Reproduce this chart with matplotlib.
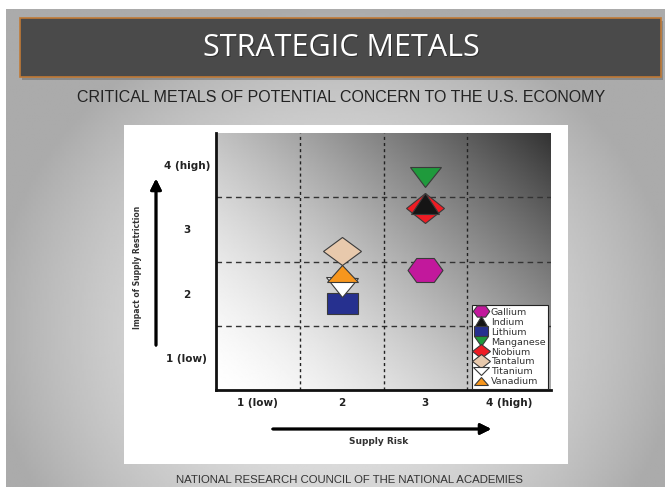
import numpy as np
import matplotlib.pyplot as plt
from matplotlib.markers import MarkerStyle
from matplotlib.transforms import Affine2D
from matplotlib.patches import Rectangle

W, H = 665, 487

# Data: supply risk (x) vs impact of supply restriction (y)
metals = ['Gallium', 'Indium', 'Lithium', 'Manganese', 'Niobium', 'Tantalum', 'Titanium', 'Vanadium']
supply_risk = [3, 3, 2, 3, 3, 2, 2, 2]
impact = [2.36, 3.41, 1.86, 3.81, 3.33, 2.66, 2.10, 2.32]
tick_vals = [1, 2, 3, 4]
tick_labels = ['1 (low)', '2', '3', '4 (high)']

# marker style per metal: (marker, face colour, width px, height px, zorder)
styles = {
    'Gallium':   ('H', '#c2189c', 35, 24, 3),
    'Indium':    ('^', '#151515', 27, 21, 5),
    'Lithium':   ('s', '#26308f', 31, 21, 2),
    'Manganese': ('v', '#1f9a3c', 31, 20, 3),
    'Niobium':   ('D', '#ee1c24', 38, 30, 4),
    'Tantalum':  ('D', '#e8c9ac', 38, 28, 3),
    'Titanium':  ('v', '#ffffff', 32, 19, 4),
    'Vanadium':  ('^', '#f7961d', 31, 17, 5),
}
# native (width, height) of each marker relative to markersize
native = {'H': (1.0, 0.866), '^': (1.0, 1.0), 'v': (1.0, 1.0), 's': (1.0, 1.0), 'D': (1.414, 1.414)}

PX2PT = 72 / 100.0


def fig_rect(x0, y0, x1, y1):
    # pixel box (top-left origin) -> figure fraction [l, b, w, h]
    return [x0 / W, 1 - y1 / H, (x1 - x0) / W, (y1 - y0) / H]


def fx(x):
    return x / W


def fy(y):
    return 1 - y / H


fig = plt.figure(figsize=(W / 100, H / 100), dpi=100)
fig.patch.set_facecolor('white')

# slide background with a soft radial gradient
bg = fig.add_axes(fig_rect(6, 9, W, H))
yy, xx = np.mgrid[-1:1:200j, -1:1:300j]
r = np.sqrt(xx ** 2 + ((yy - 0.35) / 1.3) ** 2)
shade = 0.89 - 0.20 * np.clip(r, 0, 1.05) ** 2
bg.imshow(shade, cmap='gray', vmin=0, vmax=1, aspect='auto', extent=[0, 1, 0, 1])
bg.set_axis_off()

# title bar with shadow
fig.patches.append(Rectangle((fx(22), fy(80)), (661 - 20) / W, (77 - 18) / H,
                             transform=fig.transFigure, facecolor='#666666', alpha=0.5,
                             edgecolor='none', zorder=1))
fig.patches.append(Rectangle((fx(20), fy(77)), (661 - 20) / W, (77 - 18) / H,
                             transform=fig.transFigure, facecolor='#4a4a4a',
                             edgecolor='#c07a36', linewidth=1.2, zorder=2))
fig.text(fx(341) + 0.002, fy(48) - 0.003, 'STRATEGIC METALS', color='#222222', fontsize=22,
         family='Open Sans', ha='center', va='center', zorder=3, alpha=0.6)
fig.text(fx(341), fy(48), 'STRATEGIC METALS', color='white', fontsize=22,
         family='Open Sans', ha='center', va='center', zorder=4)

fig.text(fx(341), fy(98), 'CRITICAL METALS OF POTENTIAL CONCERN TO THE U.S. ECONOMY',
         color='#222222', fontsize=11.5, family='Liberation Sans', ha='center', va='center')
fig.text(fx(350), fy(480), 'NATIONAL RESEARCH COUNCIL OF THE NATIONAL ACADEMIES',
         color='#333333', fontsize=8.2, family='Liberation Sans',
         ha='center', va='center')

# white panel behind the chart
fig.patches.append(Rectangle((fx(124), fy(464)), (568 - 124) / W, (464 - 125) / H,
                             transform=fig.transFigure, facecolor='white',
                             edgecolor='none', zorder=1))

ax = fig.add_axes(fig_rect(216, 133, 551, 390))
ax.set_zorder(5)
ax.set_xlim(0.5, 4.5)
ax.set_ylim(0.5, 4.5)

# diagonal gradient: white bottom-left to dark top-right
gy, gx = np.mgrid[0:1:200j, 0:1:300j]
t = (gx * 0.55 + gy * 0.45)
grad = 1.0 - 0.8 * t ** 1.5
ax.imshow(grad, cmap='gray', vmin=0, vmax=1, aspect='auto', origin='lower',
          extent=[0.5, 4.5, 0.5, 4.5], zorder=0)

for g in [1.5, 2.5, 3.5]:
    ax.axvline(g, color='#222222', lw=1.0, dashes=(2.2, 2.2), zorder=1)
    ax.axhline(g, color='#333333', lw=1.0, dashes=(4, 3), zorder=1)

for name, x, y in zip(metals, supply_risk, impact):
    m, c, w, h, z = styles[name]
    nw, nh = native[m]
    ms = h / nh * PX2PT
    sx = (w / nw) / (h / nh)
    mk = MarkerStyle(m, transform=Affine2D().scale(sx, 1.0))
    ax.plot([x], [y], linestyle='none', marker=mk, markersize=ms,
            markerfacecolor=c, markeredgecolor='#3a3a3a', markeredgewidth=0.8,
            label=name, zorder=z)

for s in ['top', 'right']:
    ax.spines[s].set_visible(False)
for s in ['left', 'bottom']:
    ax.spines[s].set_linewidth(2)
    ax.spines[s].set_color('#111111')

ax.set_xticks(tick_vals)
ax.set_xticklabels(tick_labels, fontsize=7.5, fontweight='bold', color='#222222')
ax.set_yticks(tick_vals)
ax.set_yticklabels(tick_labels, fontsize=7.5, fontweight='bold', color='#222222', ha='center')
ax.tick_params(axis='x', length=0, pad=6)
ax.tick_params(axis='y', length=0, pad=21)

leg = ax.legend(loc='lower right', bbox_to_anchor=(0.99, 0.005), fontsize=6.8,
                markerscale=0.47, frameon=True, fancybox=False, borderpad=0.25,
                labelspacing=0.1, handlelength=1.4, handletextpad=0.35,
                borderaxespad=0)
leg.get_frame().set_edgecolor('#222222')
leg.get_frame().set_linewidth(0.8)
leg.get_frame().set_alpha(1)
leg.set_zorder(10)
for txt in leg.get_texts():
    txt.set_color('#333333')

# axis arrows and labels
fig.add_artist(plt.annotate('', xy=(fx(156), fy(176)), xytext=(fx(156), fy(348)),
                            xycoords='figure fraction', textcoords='figure fraction',
                            arrowprops=dict(arrowstyle='-|>', lw=2, color='black',
                                            mutation_scale=16)))
fig.add_artist(plt.annotate('', xy=(fx(494), fy(429)), xytext=(fx(270), fy(429)),
                            xycoords='figure fraction', textcoords='figure fraction',
                            arrowprops=dict(arrowstyle='-|>', lw=2, color='black',
                                            mutation_scale=16)))
fig.text(fx(138), fy(267), 'Impact of Supply Restriction', rotation=90, fontsize=5.5,
         fontweight='bold', color='#333333', ha='center', va='center', zorder=6)
fig.text(fx(379), fy(442), 'Supply Risk', fontsize=6.5, fontweight='bold',
         color='#333333', ha='center', va='center', zorder=6)

plt.savefig('out.png', dpi=100)
